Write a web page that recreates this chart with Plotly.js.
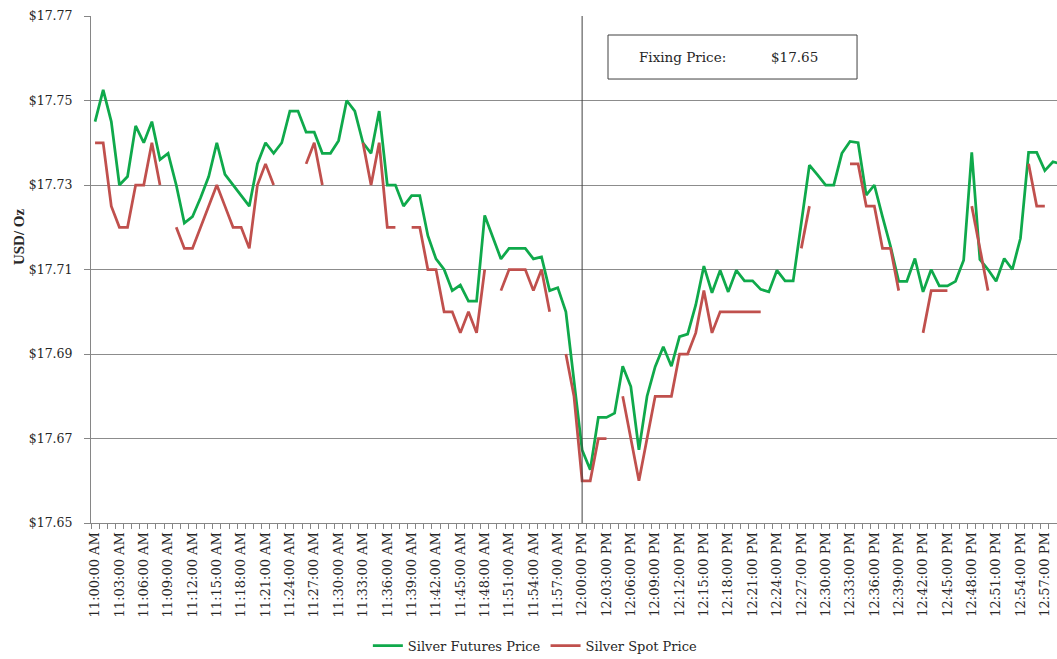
<!DOCTYPE html>
<html>
<head>
<meta charset="utf-8">
<script src="https://cdn.plot.ly/plotly-3.0.1.min.js"></script>
<style>
  html, body { margin: 0; padding: 0; background: #ffffff; }
  #chart { width: 1057px; height: 659px; }
</style>
</head>
<body>
<div id="chart"></div>
<script>
// ---- Data ----
const times = [
  "11:00:00 AM","11:01:00 AM","11:02:00 AM","11:03:00 AM","11:04:00 AM","11:05:00 AM","11:06:00 AM","11:07:00 AM","11:08:00 AM","11:09:00 AM",
  "11:10:00 AM","11:11:00 AM","11:12:00 AM","11:13:00 AM","11:14:00 AM","11:15:00 AM","11:16:00 AM","11:17:00 AM","11:18:00 AM","11:19:00 AM",
  "11:20:00 AM","11:21:00 AM","11:22:00 AM","11:23:00 AM","11:24:00 AM","11:25:00 AM","11:26:00 AM","11:27:00 AM","11:28:00 AM","11:29:00 AM",
  "11:30:00 AM","11:31:00 AM","11:32:00 AM","11:33:00 AM","11:34:00 AM","11:35:00 AM","11:36:00 AM","11:37:00 AM","11:38:00 AM","11:39:00 AM",
  "11:40:00 AM","11:41:00 AM","11:42:00 AM","11:43:00 AM","11:44:00 AM","11:45:00 AM","11:46:00 AM","11:47:00 AM","11:48:00 AM","11:49:00 AM",
  "11:50:00 AM","11:51:00 AM","11:52:00 AM","11:53:00 AM","11:54:00 AM","11:55:00 AM","11:56:00 AM","11:57:00 AM","11:58:00 AM","11:59:00 AM",
  "12:00:00 PM","12:01:00 PM","12:02:00 PM","12:03:00 PM","12:04:00 PM","12:05:00 PM","12:06:00 PM","12:07:00 PM","12:08:00 PM","12:09:00 PM",
  "12:10:00 PM","12:11:00 PM","12:12:00 PM","12:13:00 PM","12:14:00 PM","12:15:00 PM","12:16:00 PM","12:17:00 PM","12:18:00 PM","12:19:00 PM",
  "12:20:00 PM","12:21:00 PM","12:22:00 PM","12:23:00 PM","12:24:00 PM","12:25:00 PM","12:26:00 PM","12:27:00 PM","12:28:00 PM","12:29:00 PM",
  "12:30:00 PM","12:31:00 PM","12:32:00 PM","12:33:00 PM","12:34:00 PM","12:35:00 PM","12:36:00 PM","12:37:00 PM","12:38:00 PM","12:39:00 PM",
  "12:40:00 PM","12:41:00 PM","12:42:00 PM","12:43:00 PM","12:44:00 PM","12:45:00 PM","12:46:00 PM","12:47:00 PM","12:48:00 PM","12:49:00 PM",
  "12:50:00 PM","12:51:00 PM","12:52:00 PM","12:53:00 PM","12:54:00 PM","12:55:00 PM","12:56:00 PM","12:57:00 PM","12:58:00 PM","12:59:00 PM"
];

const futuresPrice = [
  17.745, 17.7525, 17.745, 17.730, 17.732, 17.744, 17.740, 17.745, 17.736, 17.7375,
  17.730, 17.721, 17.7225, 17.727, 17.732, 17.740, 17.7325, 17.730, 17.7275, 17.725,
  17.735, 17.740, 17.7375, 17.740, 17.7475, 17.7475, 17.7425, 17.7425, 17.7375, 17.7375,
  17.7405, 17.750, 17.7475, 17.740, 17.7375, 17.7475, 17.730, 17.730, 17.725, 17.7275,
  17.7275, 17.718, 17.7125, 17.710, 17.705, 17.7063, 17.7025, 17.7025, 17.7228, 17.7175,
  17.7125, 17.715, 17.715, 17.715, 17.7125, 17.713, 17.705, 17.7057, 17.700, 17.684,
  17.6673, 17.6626, 17.675, 17.675, 17.676, 17.6871, 17.6823, 17.6673, 17.680, 17.687,
  17.6917, 17.6871, 17.6941, 17.6947, 17.7016, 17.7108, 17.7045, 17.7098, 17.7047, 17.7098,
  17.7073, 17.7073, 17.7053, 17.7047, 17.7098, 17.7073, 17.7073, 17.721, 17.7347, 17.7324,
  17.730, 17.730, 17.7375, 17.7403, 17.740, 17.7276, 17.730, 17.7225, 17.7154, 17.7072,
  17.7072, 17.7126, 17.7047, 17.710, 17.7061, 17.7061, 17.7072, 17.7122, 17.7377, 17.7124,
  17.710, 17.7072, 17.7126, 17.710, 17.7174, 17.7377, 17.7377, 17.7334, 17.7355, 17.735
];

const spotPrice = [
  17.74, 17.74, 17.725, 17.72, 17.72, 17.73, 17.73, 17.74, 17.73, null,
  17.72, 17.715, 17.715, 17.72, 17.725, 17.73, 17.725, 17.72, 17.72, 17.715,
  17.73, 17.735, 17.73, null, null, null, 17.735, 17.74, 17.73, null,
  null, null, null, 17.74, 17.73, 17.74, 17.72, 17.72, null, 17.72,
  17.72, 17.71, 17.71, 17.70, 17.70, 17.695, 17.70, 17.695, 17.71, null,
  17.705, 17.71, 17.71, 17.71, 17.705, 17.71, 17.70, null, 17.69, 17.68,
  17.66, 17.66, 17.67, 17.67, null, 17.68, 17.67, 17.66, 17.67, 17.68,
  17.68, 17.68, 17.69, 17.69, 17.695, 17.705, 17.695, 17.70, 17.70, 17.70,
  17.70, 17.70, 17.70, null, null, null, null, 17.715, 17.725, null,
  null, null, null, 17.735, 17.735, 17.725, 17.725, 17.715, 17.715, 17.705,
  null, null, 17.695, 17.705, 17.705, 17.705, null, null, 17.725, 17.715,
  17.705, null, null, null, null, 17.735, 17.725, 17.725, null, null
];

const seriesNames = ["Silver Futures Price", "Silver Spot Price"];
const fixingLabel = "Fixing Price:";
const fixingPrice = 17.65;
const fixingTime = "12:00:00 PM";
const yTickVals = [17.65, 17.67, 17.69, 17.71, 17.73, 17.75, 17.77];
const yTitle = "USD/ Oz";
const labelEvery = 3;

// ---- Chart ----
const FONT = "DejaVu Serif, Liberation Serif, serif";
const TXT = "#262626";
const tickText = times.map((t, i) => (i % labelEvery === 0 ? t : ""));
const yTickText = yTickVals.map(v => "$" + v.toFixed(2));

const traces = [
  {
    x: times, y: futuresPrice, name: seriesNames[0], type: "scatter", mode: "lines",
    line: { color: "#0FA94B", width: 2.75 }
  },
  {
    x: times, y: spotPrice, name: seriesNames[1], type: "scatter", mode: "lines",
    line: { color: "#C0504D", width: 2.75 }, connectgaps: false
  }
];

const layout = {
  width: 1057, height: 659,
  margin: { l: 91, r: 0, t: 16, b: 136, autoexpand: false },
  paper_bgcolor: "#ffffff", plot_bgcolor: "#ffffff",
  font: { family: FONT, size: 13, color: TXT },
  showlegend: true,
  legend: {
    orientation: "h", x: 0.46, xanchor: "center", y: -0.242, yanchor: "middle",
    font: { family: FONT, size: 13, color: TXT },
    itemwidth: 30, bgcolor: "rgba(0,0,0,0)"
  },
  xaxis: {
    type: "category",
    automargin: false,
    range: [-0.5, 118.5],
    tickmode: "array", tickvals: times, ticktext: tickText,
    tickson: "boundaries",
    tickangle: -90,
    ticks: "outside", ticklen: 5, tickcolor: "#868686",
    ticklabelstandoff: 3,
    showgrid: false, zeroline: false,
    showline: true, linecolor: "#868686", linewidth: 1,
    tickfont: { family: FONT, size: 13, color: TXT }
  },
  yaxis: {
    automargin: false,
    range: [17.65, 17.77],
    tickmode: "array", tickvals: yTickVals, ticktext: yTickText,
    ticks: "outside", ticklen: 6, tickcolor: "#868686",
    ticklabelstandoff: 9,
    showgrid: true, gridcolor: "#8c8c8c", gridwidth: 1,
    zeroline: false,
    showline: true, linecolor: "#868686", linewidth: 1,
    tickfont: { family: FONT, size: 12.5, color: TXT }
  },
  shapes: [
    {
      type: "line", xref: "x", yref: "paper",
      x0: fixingTime, x1: fixingTime, y0: 0, y1: 1,
      line: { color: "#404040", width: 1 }
    },
    {
      type: "rect", xref: "paper", yref: "paper",
      x0: 0.5352, x1: 0.7930, y0: 0.8757, y1: 0.9625,
      line: { color: "#404040", width: 1 }, fillcolor: "#ffffff"
    }
  ],
  annotations: [
    {
      text: fixingLabel, xref: "paper", yref: "paper",
      x: 0.5652, y: 0.9191, xanchor: "left", yanchor: "middle", showarrow: false,
      font: { family: FONT, size: 13.5, color: TXT }
    },
    {
      text: "$" + fixingPrice.toFixed(2), xref: "paper", yref: "paper",
      x: 0.702, y: 0.9191, xanchor: "left", yanchor: "middle", showarrow: false,
      font: { family: FONT, size: 13.5, color: TXT }
    },
    {
      text: "<b>" + yTitle + "</b>", xref: "paper", yref: "paper",
      x: -0.075, y: 0.565, xanchor: "center", yanchor: "middle", showarrow: false,
      textangle: -90,
      font: { family: "Liberation Serif, serif", size: 15, color: TXT }
    }
  ]
};

Plotly.newPlot("chart", traces, layout, { displayModeBar: false, staticPlot: true });
</script>
</body>
</html>
